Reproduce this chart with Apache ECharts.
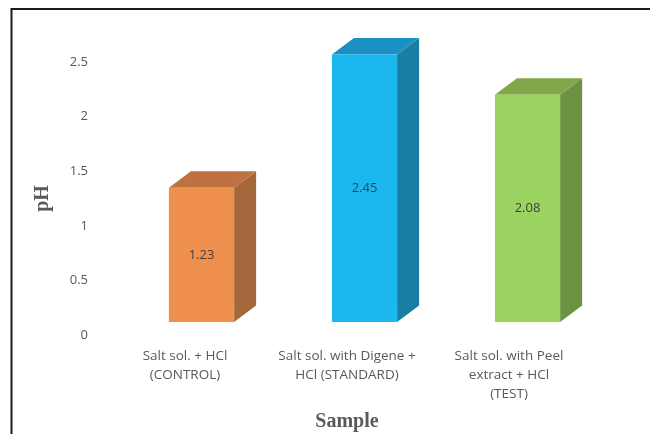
<!DOCTYPE html>
<html>
<head>
<meta charset="utf-8">
<script src="https://cdn.jsdelivr.net/npm/echarts@6/dist/echarts.min.js"></script>
<style>
  html, body { margin: 0; padding: 0; background: #ffffff; }
  #chart { width: 650px; height: 434px; }
</style>
</head>
<body>
<div id="chart"></div>
<script>
// Sample groups and their measured pH
const categories = [
  'Salt sol. + HCl\n(CONTROL)',
  'Salt sol. with Digene +\nHCl (STANDARD)',
  'Salt sol. with Peel\nextract + HCl\n(TEST)'
];
const phValues = [1.23, 2.45, 2.08];
const yTicks = [0, 0.5, 1, 1.5, 2, 2.5];

// Face colours for each box: front, top, side
const faceColors = [
  { front: '#F0904F', top: '#BE7242', side: '#A5683D' },
  { front: '#1BB8F0', top: '#1A91C2', side: '#187FA2' },
  { front: '#9BD260', top: '#80A84A', side: '#6A9242' }
];

const DEPTH_X = 22;
const DEPTH_Y = -16.5;
const LABEL_FONT = '"Open Sans", "Liberation Sans", sans-serif';

function renderBox(params, api) {
  const idx = api.value(0);
  const val = api.value(1);
  const top = api.coord([idx, val]);
  const base = api.coord([idx, 0]);
  const halfW = api.size([1, 0])[0] * 0.2;
  const x0 = top[0] - halfW, x1 = top[0] + halfW;
  const y0 = top[1], y1 = base[1];
  const c = faceColors[idx];
  return {
    type: 'group',
    children: [
      {
        type: 'polygon',
        shape: { points: [[x1, y0], [x1 + DEPTH_X, y0 + DEPTH_Y], [x1 + DEPTH_X, y1 + DEPTH_Y], [x1, y1]] },
        style: { fill: c.side }
      },
      {
        type: 'polygon',
        shape: { points: [[x0, y0], [x0 + DEPTH_X, y0 + DEPTH_Y], [x1 + DEPTH_X, y0 + DEPTH_Y], [x1, y0]] },
        style: { fill: c.top }
      },
      {
        type: 'rect',
        shape: { x: x0, y: y0, width: x1 - x0, height: y1 - y0 },
        style: { fill: c.front }
      },
      {
        type: 'text',
        style: {
          x: (x0 + x1) / 2,
          y: (y0 + y1) / 2,
          text: val.toFixed(2),
          fill: '#404040',
          font: '13px ' + LABEL_FONT,
          align: 'center',
          verticalAlign: 'middle'
        }
      }
    ]
  };
}

const chart = echarts.init(document.getElementById('chart'), null, { renderer: 'canvas' });

chart.setOption({
  backgroundColor: '#ffffff',
  animation: false,
  graphic: [
    {
      type: 'rect',
      shape: { x: 11.5, y: 9, width: 700, height: 500 },
      style: { fill: 'none', stroke: '#1a1a1a', lineWidth: 2 },
      z: 100
    }
  ],
  grid: [
    { left: 104, right: 60, top: 62, bottom: 99, containLabel: false, outerBoundsMode: 'none' },
    { left: 120, right: 41, top: 49, bottom: 112, containLabel: false, outerBoundsMode: 'none' }
  ],
  xAxis: [
    {
      gridIndex: 0,
      type: 'category',
      data: categories,
      axisLine: { show: false },
      axisTick: { show: false },
      axisLabel: {
        margin: 12,
        color: '#595959',
        fontSize: 13.5,
        lineHeight: 19,
        fontFamily: LABEL_FONT,
        interval: 0
      },
      name: 'Sample',
      nameLocation: 'middle',
      nameGap: 77,
      nameMoveOverlap: false,
      nameTextStyle: {
        color: '#595959',
        fontSize: 20,
        fontWeight: 'bold',
        fontFamily: 'Liberation Serif'
      }
    },
    {
      gridIndex: 1,
      type: 'category',
      data: categories,
      show: false
    }
  ],
  yAxis: [
    {
      gridIndex: 0,
      type: 'value',
      min: yTicks[0],
      max: yTicks[yTicks.length - 1],
      interval: 0.5,
      axisLine: { show: false },
      axisTick: { show: false },
      splitLine: { show: false },
      axisLabel: {
        margin: 16,
        color: '#595959',
        fontSize: 13,
        fontFamily: LABEL_FONT
      },
      name: 'pH',
      nameLocation: 'middle',
      nameRotate: 90,
      nameGap: 51,
      nameMoveOverlap: false,
      nameTextStyle: {
        color: '#595959',
        fontSize: 20,
        fontWeight: 'bold',
        fontFamily: 'Liberation Serif'
      }
    },
    {
      gridIndex: 1,
      type: 'value',
      min: yTicks[0],
      max: yTicks[yTicks.length - 1],
      show: false
    }
  ],
  series: [
    {
      type: 'custom',
      xAxisIndex: 1,
      yAxisIndex: 1,
      clip: false,
      renderItem: renderBox,
      encode: { x: 0, y: 1 },
      data: phValues.map((v, i) => [i, v])
    }
  ]
});
</script>
</body>
</html>
